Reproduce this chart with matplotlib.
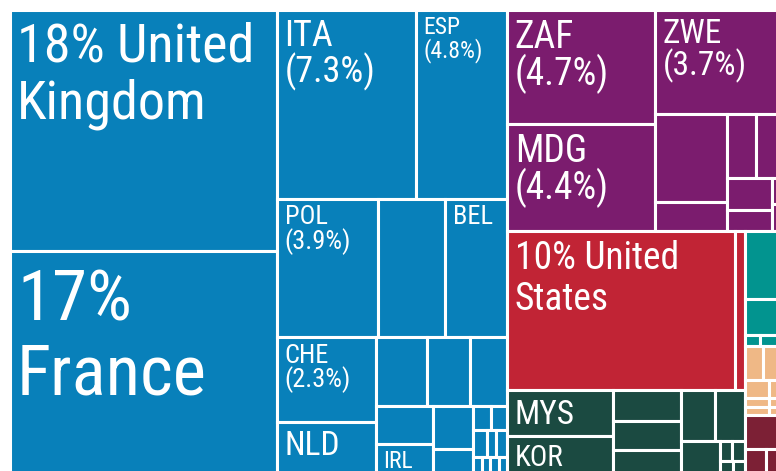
import matplotlib
matplotlib.use("Agg")
import matplotlib.pyplot as plt
from matplotlib.patches import Rectangle

plt.rcParams['font.family'] = ['Roboto Condensed', 'Liberation Sans Narrow', 'DejaVu Sans']

BLUE = "#0880ba"
PURPLE = "#7b1c6e"
RED = "#c12435"
TEAL = "#02948f"
PEACH = "#efb886"
MAROON = "#7c2035"
GREEN = "#1b4a41"

# --- shares (%) ---
# Europe
uk_fr = [18.0, 17.0]
uk_fr_text = ["18% United\nKingdom", "17%\nFrance"]
ita_esp = [7.3, 4.8]
ita_esp_text = ["ITA\n(7.3%)", "ESP\n(4.8%)"]
pol_row = [3.9, 2.57, 2.39]
pol_row_text = ["POL\n(3.9%)", None, "BEL"]
che_nld = [2.35, 1.59]
che_nld_text = ["CHE\n(2.3%)", "NLD"]
eu_mid = [0.99, 0.82, 0.72]
eu_irl = [0.59, 0.57]
eu_irl_text = [None, "IRL"]
eu_pair = [0.48, 0.34]
eu_tiny_a = [0.12, 0.11]
eu_tiny_b = [0.105, 0.073, 0.082]
eu_tiny_c = [0.06, 0.05, 0.06, 0.05]

# Africa
zaf_mdg = [4.7, 4.4]
zaf_mdg_text = ["ZAF\n(4.7%)", "MDG\n(4.4%)"]
zwe = 3.7
af_a = [1.76, 0.57]
af_b = [0.53, 0.48]
af_c = [0.41, 0.26]
af_d = [0.08, 0.08]

# Americas
us_can = [10.1, 0.45]
us_can_text = ["10% United\nStates", None]
teal_big = [0.72, 0.38]
teal_small = [0.046, 0.07]
peach_rows = [[0.17, 0.19], [0.127, 0.074], [0.057, 0.033], [0.053, 0.031]]
maroon_top = 0.36
maroon_row = [0.18, 0.15]

# Asia
mys_kor = [1.35, 1.29]
mys_kor_text = ["MYS", "KOR"]
as_col = [0.57, 0.56, 0.56]
as_pair = [0.48, 0.42]
as_single = 0.42
as_tiny_a = [0.07, 0.07]
as_tiny_b = [0.07, 0.06]

label_pt = {
    "18% United\nKingdom": 39, "17%\nFrance": 51, "10% United\nStates": 27,
    "ITA\n(7.3%)": 26, "ZAF\n(4.7%)": 27, "MDG\n(4.4%)": 27, "ZWE\n(3.7%)": 24,
    "ESP\n(4.8%)": 17, "POL\n(3.9%)": 19, "CHE\n(2.3%)": 19, "BEL": 19,
    "NLD": 24, "MYS": 24, "KOR": 21, "IRL": 17,
}
# the country-name labels sit on looser lines than the code labels
loose = ["18% United\nKingdom", "17%\nFrance", "10% United\nStates"]


def leaf(v, c, t=None):
    return ("leaf", v, c, t)


def row(vals, c, texts=None):
    texts = texts or [None] * len(vals)
    return ("h", [leaf(v, c, t) for v, t in zip(vals, texts)])


def col(vals, c, texts=None):
    texts = texts or [None] * len(vals)
    return ("v", [leaf(v, c, t) for v, t in zip(vals, texts)])


def total(n):
    if n[0] == "leaf":
        return n[1]
    return sum(total(k) for k in n[1])


def layout(n, x, y, w, h, out):
    if n[0] == "leaf":
        out.append((x, y, w, h, n[2], n[3]))
        return
    tot = total(n)
    pos = 0.0
    for k in n[1]:
        f = total(k) / tot
        if n[0] == "h":
            layout(k, x + pos * w, y, f * w, h, out)
        else:
            layout(k, x, y + pos * h, w, f * h, out)
        pos += f


europe = ("h", [
    col(uk_fr, BLUE, uk_fr_text),
    ("v", [
        row(ita_esp, BLUE, ita_esp_text),
        row(pol_row, BLUE, pol_row_text),
        ("h", [
            col(che_nld, BLUE, che_nld_text),
            ("v", [
                row(eu_mid, BLUE),
                ("h", [
                    col(eu_irl, BLUE, eu_irl_text),
                    col(eu_pair, BLUE),
                    ("v", [row(eu_tiny_a, BLUE), row(eu_tiny_b, BLUE), row(eu_tiny_c, BLUE)]),
                ]),
            ]),
        ]),
    ]),
])

africa = ("h", [
    col(zaf_mdg, PURPLE, zaf_mdg_text),
    ("v", [
        leaf(zwe, PURPLE, "ZWE\n(3.7%)"),
        ("h", [
            col(af_a, PURPLE),
            ("v", [
                row(af_b, PURPLE),
                ("h", [col(af_c, PURPLE), col(af_d, PURPLE)]),
            ]),
        ]),
    ]),
])

asia = ("h", [
    col(mys_kor, GREEN, mys_kor_text),
    col(as_col, GREEN),
    ("v", [
        row(as_pair, GREEN),
        ("h", [leaf(as_single, GREEN),
               ("v", [row(as_tiny_a, GREEN), row(as_tiny_b, GREEN)])]),
    ]),
])

right_strip = ("v", [
    leaf(teal_big[0], TEAL), leaf(teal_big[1], TEAL),
    row(teal_small, TEAL),
    ("v", [row(r, PEACH) for r in peach_rows]),
    ("v", [leaf(maroon_top, MAROON), row(maroon_row, MAROON)]),
])

rest = ("v", [
    africa,
    ("h", [
        ("v", [row(us_can, RED, us_can_text), asia]),
        right_strip,
    ]),
])

tree = ("h", [europe, rest])

tiles = []
layout(tree, 9.5, 9.5, 773.5, 470.5, tiles)

fig = plt.figure(figsize=(7.76, 4.71), dpi=100)
ax = fig.add_axes([0, 0, 1, 1])
ax.set_xlim(0, 776)
ax.set_ylim(471, 0)
ax.axis("off")

for x, y, w, h, c, t in tiles:
    ax.add_patch(Rectangle((x, y), w, h, facecolor=c, edgecolor="white", linewidth=2.2))
    if t:
        pt = label_pt[t]
        px = pt * 100 / 72
        ax.text(x + 7.5, y + 1.5 + 0.2 * px, t, color="white", fontsize=pt,
                ha="left", va="top", linespacing=1.13 if t in loose else 0.95,
                fontstretch="condensed")

fig.savefig("out.png", dpi=100)
